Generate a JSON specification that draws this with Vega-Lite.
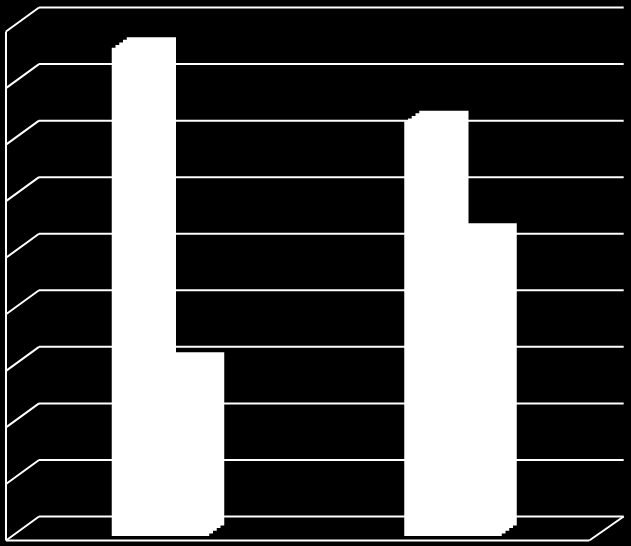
{
  "$schema": "https://vega.github.io/schema/vega-lite/v6.json",
  "description": "3D clustered column chart, two categories with two series, on a black background",
  "width": 631,
  "height": 546,
  "autosize": {"type": "fit", "contains": "padding"},
  "padding": 0,
  "background": "#000000",
  "config": {"view": {"stroke": null}, "bar": {"color": "#ffffff", "stroke": "#ffffff", "strokeWidth": 2, "width": 47.25}},
  "datasets": {
    "bars": [
      {"category": "Category 1", "series": "Series 1", "value": 86},
      {"category": "Category 1", "series": "Series 2", "value": 30.3},
      {"category": "Category 2", "series": "Series 1", "value": 73},
      {"category": "Category 2", "series": "Series 2", "value": 53.1}
    ],
    "ticks": [
      {"tick": 0}, {"tick": 10}, {"tick": 20}, {"tick": 30}, {"tick": 40},
      {"tick": 50}, {"tick": 60}, {"tick": 70}, {"tick": 80}, {"tick": 90}
    ],
    "one": [{}]
  },
  "resolve": {"scale": {"x": "independent"}},
  "layer": [
    {
      "layer": [
        {
          "data": {"name": "ticks"},
          "mark": {"type": "rule", "color": "#ffffff", "strokeWidth": 2},
          "encoding": {
            "x": {"datum": 6.18, "type": "quantitative", "scale": {"type": "linear", "domain": [0, 100], "nice": false, "zero": false}, "axis": null},
            "x2": {"datum": 98.84},
            "y": {"field": "tick", "type": "quantitative", "scale": {"domain": [-5.216, 91.33], "nice": false, "zero": false}, "axis": null}
          }
        },
        {
          "data": {"name": "ticks"},
          "mark": {"type": "rule", "color": "#ffffff", "strokeWidth": 2, "yOffset": 24},
          "encoding": {
            "x": {"datum": 0.95, "type": "quantitative", "scale": {"type": "linear", "domain": [0, 100], "nice": false, "zero": false}, "axis": null},
            "x2": {"datum": 6.18},
            "y": {"field": "tick", "type": "quantitative", "scale": {"domain": [-5.216, 91.33], "nice": false, "zero": false}, "axis": null},
            "y2": {"field": "tick"}
          }
        },
        {
          "data": {"name": "one"},
          "mark": {"type": "rule", "color": "#ffffff", "strokeWidth": 2, "yOffset": 24, "y2Offset": 24},
          "encoding": {
            "x": {"datum": 0.95, "type": "quantitative", "scale": {"type": "linear", "domain": [0, 100], "nice": false, "zero": false}, "axis": null},
            "y": {"datum": 90, "type": "quantitative", "scale": {"domain": [-5.216, 91.33], "nice": false, "zero": false}, "axis": null},
            "y2": {"datum": 0}
          }
        },
        {
          "data": {"name": "one"},
          "mark": {"type": "rule", "color": "#ffffff", "strokeWidth": 2, "yOffset": 24, "y2Offset": 24},
          "encoding": {
            "x": {"datum": 0.95, "type": "quantitative", "scale": {"type": "linear", "domain": [0, 100], "nice": false, "zero": false}, "axis": null},
            "x2": {"datum": 93.39},
            "y": {"datum": 0, "type": "quantitative", "scale": {"domain": [-5.216, 91.33], "nice": false, "zero": false}, "axis": null},
            "y2": {"datum": 0}
          }
        },
        {
          "data": {"name": "one"},
          "mark": {"type": "rule", "color": "#ffffff", "strokeWidth": 2, "yOffset": 24},
          "encoding": {
            "x": {"datum": 93.39, "type": "quantitative", "scale": {"type": "linear", "domain": [0, 100], "nice": false, "zero": false}, "axis": null},
            "x2": {"datum": 98.84},
            "y": {"datum": 0, "type": "quantitative", "scale": {"domain": [-5.216, 91.33], "nice": false, "zero": false}, "axis": null},
            "y2": {"datum": 0}
          }
        }
      ]
    },
    {
      "data": {"name": "bars"},
      "encoding": {
        "x": {"field": "category", "type": "nominal", "scale": {"type": "band", "paddingInner": 0, "paddingOuter": 0.0786, "align": 0.3098}, "axis": null},
        "y": {"field": "value", "type": "quantitative", "scale": {"domain": [-5.216, 91.33], "nice": false, "zero": false}, "axis": null},
        "y2": {"datum": 0}
      },
      "layer": [
        {"transform": [{"filter": "datum.series === 'Series 1'"}], "mark": {"type": "bar", "xOffset": -24.125, "yOffset": 18.5, "y2Offset": 18.5}},
        {"transform": [{"filter": "datum.series === 'Series 1'"}], "mark": {"type": "bar", "xOffset": -20.375, "yOffset": 15.9, "y2Offset": 15.9}},
        {"transform": [{"filter": "datum.series === 'Series 1'"}], "mark": {"type": "bar", "xOffset": -16.625, "yOffset": 13.3, "y2Offset": 13.3}},
        {"transform": [{"filter": "datum.series === 'Series 1'"}], "mark": {"type": "bar", "xOffset": -12.875, "yOffset": 10.6, "y2Offset": 10.6}},
        {"transform": [{"filter": "datum.series === 'Series 1'"}], "mark": {"type": "bar", "xOffset": -9.125, "yOffset": 8, "y2Offset": 8}},
        {"transform": [{"filter": "datum.series === 'Series 2'"}], "mark": {"type": "bar", "xOffset": 24.125, "yOffset": 18.5, "y2Offset": 18.5}},
        {"transform": [{"filter": "datum.series === 'Series 2'"}], "mark": {"type": "bar", "xOffset": 27.875, "yOffset": 15.9, "y2Offset": 15.9}},
        {"transform": [{"filter": "datum.series === 'Series 2'"}], "mark": {"type": "bar", "xOffset": 31.625, "yOffset": 13.3, "y2Offset": 13.3}},
        {"transform": [{"filter": "datum.series === 'Series 2'"}], "mark": {"type": "bar", "xOffset": 35.375, "yOffset": 10.6, "y2Offset": 10.6}},
        {"transform": [{"filter": "datum.series === 'Series 2'"}], "mark": {"type": "bar", "xOffset": 39.125, "yOffset": 8, "y2Offset": 8}}
      ]
    }
  ]
}
